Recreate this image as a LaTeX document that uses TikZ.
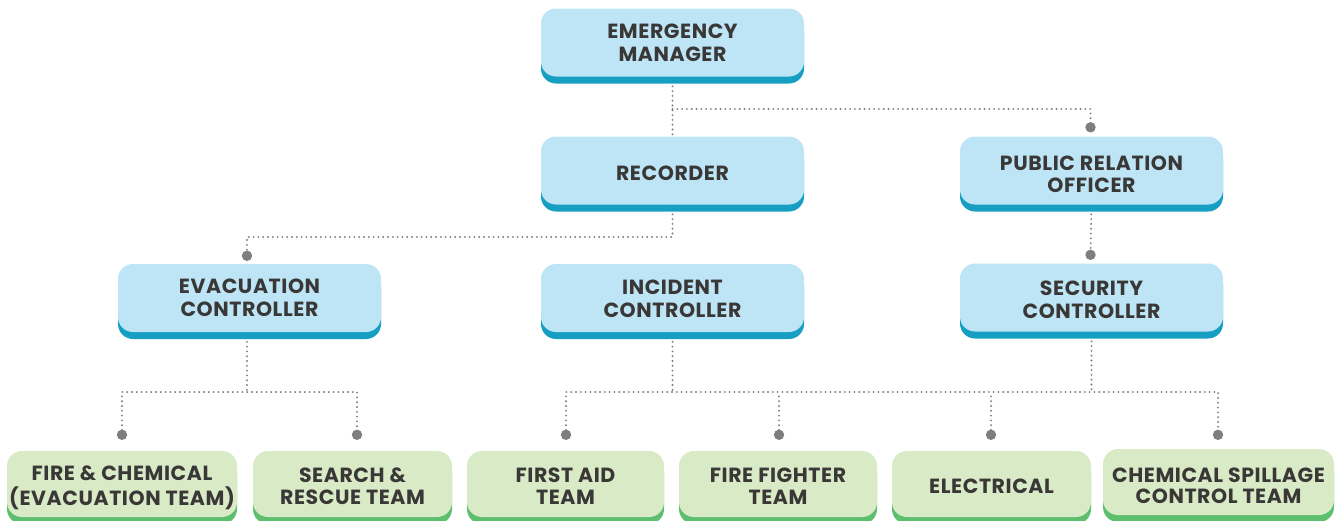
\documentclass[tikz,border=0pt]{standalone}
\usepackage{fontspec}
\setmainfont{Poppins}[LetterSpace=2.8]
\usetikzlibrary{shadows,calc}
\definecolor{bluelt}{HTML}{BEE5F6}
\definecolor{bluedk}{HTML}{169FC3}
\definecolor{greenlt}{HTML}{D9EAC7}
\definecolor{greendk}{HTML}{5DBE6E}
\definecolor{txt}{HTML}{3A3737}
\definecolor{conc}{HTML}{7E7E7E}
% #1 line spacing, #2 downward shift of the text, #3 text
\newcommand\boxtxt[3]{\setbox\strutbox\hbox{\vrule height 15pt depth \dimexpr #1pt-15pt\relax width 0pt}%
  \raisebox{\dimexpr -#2pt - #1pt/2 + 7.85pt\relax}[\height][\depth]{\begin{tabular}{@{}c@{}}#3\end{tabular}}}
\pgfdeclarelayer{bg}
\pgfsetlayers{bg,main}
\tikzset{
  boxbase/.style={rounded corners=15pt, inner sep=0pt, text=txt,
    font=\bfseries\fontsize{20.5}{23}\selectfont},
  bluebox/.style={boxbase, fill=bluelt, minimum width=263pt, minimum height=68pt,
    general shadow={fill=bluedk, shadow yshift=-7pt}},
  greenbox/.style={boxbase, fill=greenlt, minimum height=66pt,
    general shadow={fill=greendk, shadow yshift=-7pt}},
  conn/.style={draw=conc, line width=2.1pt, line cap=round, dash pattern=on 0pt off 4.8pt},
  dotc/.style={fill=conc}
}
\begin{document}
\begin{tikzpicture}[x=1pt,y=-1pt]
\useasboundingbox (0,0) rectangle (1337,520);
\clip (0,0) rectangle (1337,520);
% top rows
\node[bluebox] (em)   at (672.5,42.5) {\boxtxt{23.5}{0.3}{EMERGENCY\\MANAGER}};
\node[bluebox] (rec)  at (672.5,170.5) {\boxtxt{23}{2.5}{RECORDER}};
\node[bluebox] (pr)   at (1091.5,170.5) {\boxtxt{21.5}{4}{PUBLIC RELATION\\OFFICER}};
\node[bluebox] (evac) at (249.5,298) {\boxtxt{23.5}{0}{EVACUATION\\CONTROLLER}};
\node[bluebox] (inc)  at (672.5,298) {\boxtxt{23}{0.5}{INCIDENT\\CONTROLLER}};
\node[bluebox] (sec)  at (1091.5,297.5) {\boxtxt{23}{2}{SECURITY\\CONTROLLER}};
% bottom row
\node[greenbox, minimum width=230pt] (fc) at (122,484) {\boxtxt{21.5}{1.5}{FIRE \& CHEMICAL\\(EVACUATION TEAM)}};
\node[greenbox, minimum width=199pt] (sr) at (352.5,484) {\boxtxt{22}{2}{SEARCH \&\\RESCUE TEAM}};
\node[greenbox, minimum width=197pt] (fa) at (565.5,484) {\boxtxt{22}{2}{FIRST AID\\TEAM}};
\node[greenbox, minimum width=198pt] (ff) at (778,484) {\boxtxt{22}{2}{FIRE FIGHTER\\TEAM}};
\node[greenbox, minimum width=199pt] (el) at (991.5,484) {\boxtxt{22}{2.7}{ELECTRICAL}};
\node[greenbox, minimum width=231pt] (cs) at (1218.5,482) {\boxtxt{21.5}{3.7}{CHEMICAL SPILLAGE\\CONTROL TEAM}};
% junction levels
\coordinate (ya) at (0,109);
\coordinate (yb) at (0,237);
\coordinate (yc) at (0,392);
% dot positions
\coordinate (dpr) at ($(pr.north)+(-1,-9)$);
\coordinate (dev) at ($(evac.north)+(-2.5,-8)$);
\coordinate (dsec) at ($(sec.north)+(-1,-8.5)$);
\coordinate (dfc) at ($(fc.north)+(0,-16)$);
\coordinate (dsr) at ($(sr.north)+(4.5,-16)$);
\coordinate (dfa) at ($(fa.north)+(0.5,-16)$);
\coordinate (dff) at ($(ff.north)+(1,-16)$);
\coordinate (del) at ($(el.north)+(-0.5,-16)$);
\coordinate (dcs) at ($(cs.north)+(-0.5,-14)$);
\begin{pgfonlayer}{bg}
\draw[conn] (em.south) -- (rec.north);
\draw[conn] (em.south |- ya) -- (dpr |- ya) -- (dpr);
\draw[conn] (rec.south) -- (rec.south |- yb) -- (dev |- yb) -- (dev);
\draw[conn] (pr.south) -- (dsec);
\draw[conn] (evac.south -| dev) -- (dev |- yc);
\draw[conn] (dfc) -- (dfc |- yc) -- (dsr |- yc) -- (dsr);
\draw[conn] (inc.south) -- (inc.south |- yc);
\draw[conn] (sec.south) -- (sec.south |- yc);
\draw[conn] (dfa) -- (dfa |- yc) -- (dcs |- yc) -- (dcs);
\draw[conn] (dff) -- (dff |- yc);
\draw[conn] (del) -- (del |- yc);
\end{pgfonlayer}
\foreach \d in {dpr,dev,dsec,dfc,dsr,dfa,dff,del,dcs}
  \fill[dotc] (\d) circle (5.2);
\end{tikzpicture}
\end{document}
